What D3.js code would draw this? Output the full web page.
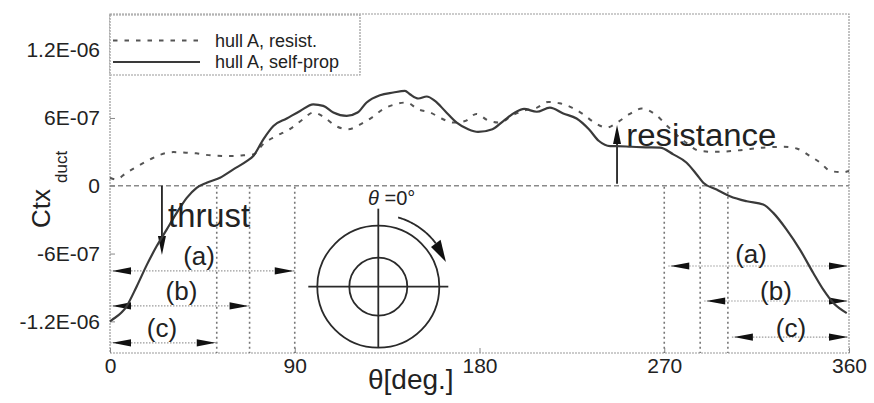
<!DOCTYPE html>
<html>
<head>
<meta charset="utf-8">
<script src="https://cdn.jsdelivr.net/npm/d3@7"></script>
<style>
  html, body { margin: 0; padding: 0; background: #fff; }
  svg { display: block; font-family: "Liberation Sans", Arial, sans-serif; }
</style>
</head>
<body>
<script>
// ---------------- data ----------------
const resistDeg = [0, 3, 8, 13, 19.5, 25, 31, 37, 42, 49, 60, 65, 70, 74.5, 81, 88, 94, 99, 104, 110, 116, 122, 127.5, 133, 139, 144.5, 150, 156, 161.5, 167, 173, 178.5, 184, 190, 195.5, 201, 208, 213.5, 219, 225, 230.5, 236, 242, 247, 253, 259, 265.5, 272, 280, 287.5, 295.5, 307, 318, 328, 334.5, 341, 346, 351, 357, 360];
const resistVal = [0.71e-7, 0.56e-7, 1.15e-7, 1.69e-7, 2.33e-7, 2.78e-7, 2.98e-7, 2.93e-7, 2.87e-7, 2.69e-7, 2.63e-7, 2.69e-7, 2.78e-7, 3.67e-7, 4.4e-7, 5.06e-7, 5.88e-7, 6.48e-7, 6.1e-7, 5.29e-7, 5.0e-7, 5.44e-7, 6.03e-7, 6.77e-7, 7.21e-7, 7.37e-7, 6.77e-7, 6.48e-7, 5.95e-7, 5.59e-7, 5.73e-7, 6.36e-7, 5.8e-7, 5.59e-7, 6.18e-7, 6.62e-7, 6.92e-7, 7.42e-7, 7.3e-7, 6.92e-7, 6.33e-7, 5.59e-7, 5.15e-7, 5.59e-7, 6.33e-7, 6.83e-7, 6.33e-7, 5.2e-7, 3.9e-7, 3.07e-7, 3.0e-7, 3.15e-7, 3.37e-7, 3.45e-7, 3.3e-7, 2.63e-7, 2.04e-7, 1.3e-7, 1.2e-7, 1.3e-7];

const selfDeg = [0, 1, 8, 13, 18, 22.7, 27.6, 32.5, 37.4, 42.2, 47.1, 53.6, 60.1, 66.6, 69.8, 74.7, 79.6, 86.1, 92.6, 99, 103.9, 108.8, 115.3, 120.6, 125, 131.5, 138, 143.7, 146.1, 150.2, 154.3, 158.3, 163.2, 168.9, 174.5, 179.3, 186.3, 191.6, 197.3, 201.7, 207.9, 214.3, 220.8, 227.3, 233.3, 238.2, 243.6, 246.8, 254, 261, 267.9, 274.4, 280.9, 285.8, 289, 295.5, 302, 310.2, 318.2, 323.1, 329.6, 336.1, 342.6, 347.5, 352.4, 358.9];
const selfVal = [-12.0e-7, -11.87e-7, -10.69e-7, -8.91e-7, -6.98e-7, -5.36e-7, -3.88e-7, -2.4e-7, -1.07e-7, -0.18e-7, 0.27e-7, 0.71e-7, 1.45e-7, 2.18e-7, 2.63e-7, 4.11e-7, 5.29e-7, 5.95e-7, 6.62e-7, 7.21e-7, 7.07e-7, 6.48e-7, 6.18e-7, 6.48e-7, 7.37e-7, 8.01e-7, 8.25e-7, 8.4e-7, 8.1e-7, 7.72e-7, 7.9e-7, 7.51e-7, 6.62e-7, 5.59e-7, 5.0e-7, 4.76e-7, 5.0e-7, 5.73e-7, 6.48e-7, 6.8e-7, 6.55e-7, 6.92e-7, 6.4e-7, 5.95e-7, 5.0e-7, 3.96e-7, 3.51e-7, 3.51e-7, 3.45e-7, 3.4e-7, 3.37e-7, 2.78e-7, 2.04e-7, 1.0e-7, 0.27e-7, -0.33e-7, -0.92e-7, -1.37e-7, -1.66e-7, -2.4e-7, -3.88e-7, -5.65e-7, -7.72e-7, -9.2e-7, -10.38e-7, -11.27e-7];

const seriesNames = ["hull A, resist.", "hull A, self-prop"];
const xTicks = [0, 90, 180, 270, 360];
const yTicks = [-1.2e-6, -6e-7, 0, 6e-7, 1.2e-6];
const yTickLabels = ["-1.2E-06", "-6E-07", "0", "6E-07", "1.2E-06"];

// annotation ranges (degrees) and levels
const rangeLabels = ["(a)", "(b)", "(c)"];
const leftRangeEnd = [90, 68, 52];
const leftRangeLevel = [-7.54e-7, -10.63e-7, -13.9e-7];
const rightRangeStart = [270, 287.5, 301];
const rightRangeLevel = [-7.1e-7, -10.2e-7, -13.39e-7];
const leftLabelDeg = [43.4, 34.8, 25.3];
const leftLabelVal = [-7.0e-7, -10.1e-7, -13.4e-7];
const rightLabelDeg = [312.3, 324.4, 331.7];
const rightLabelVal = [-6.85e-7, -10.1e-7, -13.4e-7];

// ---------------- layout ----------------
const W = 874, H = 403;
const L = 110, R = 849, T = 14, B = 353;
const svg = d3.select("body").append("svg").attr("width", W).attr("height", H);

const x = d3.scaleLinear().domain([0, 360]).range([L, R]);
const y = d3.scaleLinear().domain([-1.48e-6, 1.52e-6]).range([B, T]);

// frame
svg.append("rect").attr("x", L).attr("y", T).attr("width", R - L).attr("height", B - T)
  .attr("fill", "none").attr("stroke", "#9a9a9a").attr("stroke-width", 1.2)
  .attr("stroke-dasharray", "2,1");

// zero line
svg.append("line").attr("x1", L).attr("x2", R).attr("y1", y(0)).attr("y2", y(0))
  .attr("stroke", "#8a8a8a").attr("stroke-width", 1.4).attr("stroke-dasharray", "5,3");

// axes
const fs = 21;
const yAxis = d3.axisLeft(y).tickValues(yTicks).tickFormat((d, i) => yTickLabels[i])
  .tickSizeInner(-5).tickSizeOuter(0).tickPadding(10);
const gy = svg.append("g").attr("transform", `translate(${L},0)`).call(yAxis);
gy.select(".domain").remove();
gy.selectAll("line").attr("stroke", "#888");
gy.selectAll("text").attr("font-size", fs).attr("fill", "#222")
  .attr("font-family", "Liberation Sans, Arial, sans-serif");

const xAxis = d3.axisBottom(x).tickValues(xTicks).tickFormat(d3.format("d"))
  .tickSizeInner(-5).tickSizeOuter(0).tickPadding(5);
const gx = svg.append("g").attr("transform", `translate(0,${B})`).call(xAxis);
gx.select(".domain").remove();
gx.selectAll("line").attr("stroke", "#888");
gx.selectAll("text").attr("font-size", fs).attr("fill", "#222")
  .attr("font-family", "Liberation Sans, Arial, sans-serif");

// axis titles
svg.append("text").attr("transform", "translate(50,228) rotate(-90)")
  .attr("font-size", 26).attr("fill", "#222").text("Ctx");
svg.append("text").attr("transform", "translate(67,183) rotate(-90)")
  .attr("font-size", 17).attr("fill", "#222").text("duct");
svg.append("text").attr("x", 368).attr("y", 389)
  .attr("font-size", 28).attr("fill", "#222").text("θ[deg.]");

// ---------------- annotation lines ----------------
const annoG = svg.append("g");
const vLines = leftRangeEnd.concat(rightRangeStart);
annoG.selectAll("line.v").data(vLines).join("line")
  .attr("x1", d => x(d)).attr("x2", d => x(d))
  .attr("y1", y(0) + 1).attr("y2", B)
  .attr("stroke", "#777").attr("stroke-width", 1.6).attr("stroke-dasharray", "2,3");

function hArrow(x1, x2, yy) {
  annoG.append("line").attr("x1", x1).attr("x2", x2).attr("y1", yy).attr("y2", yy)
    .attr("stroke", "#9a9a9a").attr("stroke-width", 1.2).attr("stroke-dasharray", "1.5,1.5");
  const len = 19, hw = 3.6;
  annoG.append("path").attr("d", `M${x1 + 2},${yy} L${x1 + 2 + len},${yy - hw} L${x1 + 2 + len},${yy + hw} Z`).attr("fill", "#111");
  annoG.append("path").attr("d", `M${x2 - 1},${yy} L${x2 - 1 - len},${yy - hw} L${x2 - 1 - len},${yy + hw} Z`).attr("fill", "#111");
}
leftRangeEnd.forEach((e, i) => hArrow(x(0), x(e), y(leftRangeLevel[i])));
rightRangeStart.forEach((s, i) => hArrow(x(s) + 4, x(360), y(rightRangeLevel[i])));

annoG.selectAll("text.l").data(rangeLabels).join("text")
  .attr("x", (d, i) => x(leftLabelDeg[i])).attr("y", (d, i) => y(leftLabelVal[i]))
  .attr("text-anchor", "middle").attr("font-size", 26).attr("fill", "#222").text(d => d);
annoG.selectAll("text.r").data(rangeLabels).join("text")
  .attr("x", (d, i) => x(rightLabelDeg[i])).attr("y", (d, i) => y(rightLabelVal[i]))
  .attr("text-anchor", "middle").attr("font-size", 26).attr("fill", "#222").text(d => d);

// ---------------- series ----------------
const line = d3.line().x(d => x(d[0])).y(d => y(d[1])).curve(d3.curveMonotoneX);
svg.append("path").datum(d3.zip(resistDeg, resistVal)).attr("d", line)
  .attr("fill", "none").attr("stroke", "#555").attr("stroke-width", 2)
  .attr("stroke-dasharray", "4.5,7");
svg.append("path").datum(d3.zip(selfDeg, selfVal)).attr("d", line)
  .attr("fill", "none").attr("stroke", "#3a3a3a").attr("stroke-width", 2.2);

// ---------------- thrust / resistance arrows ----------------
function vArrow(xx, y1, tip) {
  const dir = tip > y1 ? 1 : -1;
  annoG.append("line").attr("x1", xx).attr("x2", xx).attr("y1", y1).attr("y2", tip - dir * 10)
    .attr("stroke", "#222").attr("stroke-width", 1.8);
  annoG.append("path").attr("d", `M${xx},${tip} L${xx - 4},${tip - dir * 19} L${xx + 4},${tip - dir * 19} Z`).attr("fill", "#111");
}
vArrow(x(25.3), y(0), y(-6.13e-7));
vArrow(x(247), y(0) - 2, y(5.38e-7));
svg.append("text").attr("x", x(28.3)).attr("y", y(-3.65e-7))
  .attr("font-size", 34).attr("fill", "#222").attr("textLength", 82).attr("lengthAdjust", "spacingAndGlyphs").text("thrust");
svg.append("text").attr("x", x(251.5)).attr("y", y(3.52e-7))
  .attr("font-size", 31).attr("fill", "#222").attr("textLength", 150).attr("lengthAdjust", "spacingAndGlyphs").text("resistance");

// ---------------- polar inset ----------------
const cx = x(130.7), cy = y(-8.93e-7);
const pg = svg.append("g").attr("stroke", "#2a2a2a").attr("fill", "none").attr("stroke-width", 1.8);
pg.append("circle").attr("cx", cx).attr("cy", cy).attr("r", 61);
pg.append("circle").attr("cx", cx).attr("cy", cy).attr("r", 29);
pg.append("line").attr("x1", cx - 70).attr("x2", cx + 70).attr("y1", cy).attr("y2", cy);
pg.append("line").attr("x1", cx).attr("x2", cx).attr("y1", cy - 78).attr("y2", cy + 61);
const rA = 72;
const pt = a => [cx + rA * Math.sin(a * Math.PI / 180), cy - rA * Math.cos(a * Math.PI / 180)];
const arcPts = d3.range(16, 54, 1).map(pt);
pg.append("path").attr("d", d3.line()(arcPts));
const tip = pt(70), b = 53 * Math.PI / 180;
const b1 = [cx + (rA - 6) * Math.sin(b), cy - (rA - 6) * Math.cos(b)];
const b2 = [cx + (rA + 6) * Math.sin(b), cy - (rA + 6) * Math.cos(b)];
svg.append("path").attr("d", `M${tip[0]},${tip[1]} L${b1[0]},${b1[1]} L${b2[0]},${b2[1]} Z`).attr("fill", "#111");
const th = svg.append("text").attr("x", x(125.7)).attr("y", y(-1.7e-7)).attr("font-size", 20).attr("fill", "#222");
th.append("tspan").attr("font-style", "italic").text("θ");
th.append("tspan").text(" =0°");

// ---------------- legend ----------------
const lg = svg.append("g");
lg.append("rect").attr("x", L).attr("y", T + 1).attr("width", 250).attr("height", 60)
  .attr("fill", "#fff").attr("stroke", "#9a9a9a").attr("stroke-width", 1.2).attr("stroke-dasharray", "2,1");
lg.append("line").attr("x1", 113).attr("x2", 200).attr("y1", 40.5).attr("y2", 40.5)
  .attr("stroke", "#555").attr("stroke-width", 2).attr("stroke-dasharray", "4.5,7");
lg.append("line").attr("x1", 113).attr("x2", 200).attr("y1", 62).attr("y2", 62)
  .attr("stroke", "#3a3a3a").attr("stroke-width", 2.2);
lg.selectAll("text").data(seriesNames).join("text")
  .attr("x", 215).attr("y", (d, i) => 47 + i * 21)
  .attr("font-size", 18).attr("fill", "#222").text(d => d);
</script>
</body>
</html>
